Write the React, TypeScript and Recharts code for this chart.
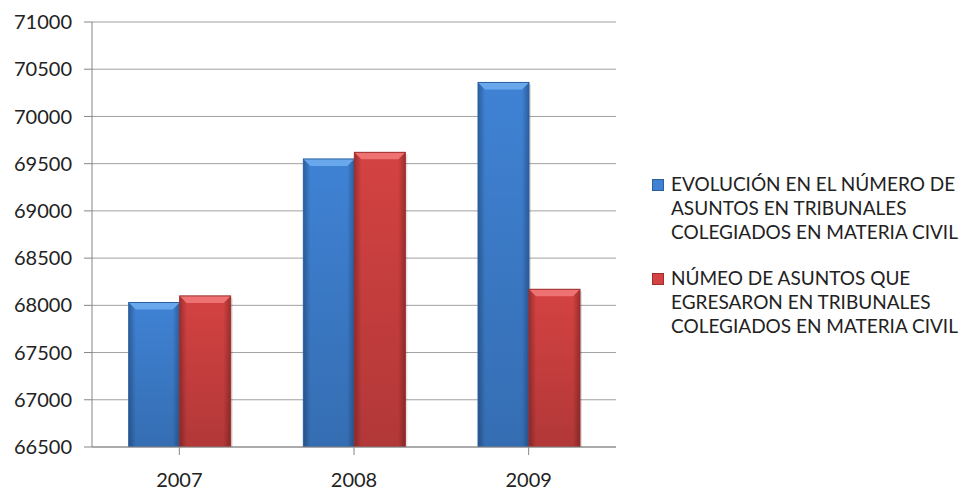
import React from "react";
import { BarChart, Bar, XAxis, YAxis, CartesianGrid } from "recharts";

const years = ["2007", "2008", "2009"];
const ingresados = [68030, 69550, 70360];
const egresados = [68100, 69620, 68170];
const yTicks = [66500, 67000, 67500, 68000, 68500, 69000, 69500, 70000, 70500, 71000];
const seriesNames = [
  "EVOLUCIÓN EN EL NÚMERO DE ASUNTOS EN TRIBUNALES COLEGIADOS EN MATERIA CIVIL",
  "NÚMEO DE ASUNTOS QUE EGRESARON EN TRIBUNALES COLEGIADOS EN MATERIA CIVIL",
];
const legendLines = [
  ["EVOLUCIÓN EN EL NÚMERO DE", "ASUNTOS EN TRIBUNALES", "COLEGIADOS EN MATERIA CIVIL"],
  ["NÚMEO DE ASUNTOS QUE", "EGRESARON EN TRIBUNALES", "COLEGIADOS EN MATERIA CIVIL"],
];

const data = years.map((y, i) => ({ year: y, a: ingresados[i], b: egresados[i] }));

const FONT = "Lato, 'Open Sans', sans-serif";

const palette = {
  a: { mid: "#3f82d4", edge: "#2c5f9e", top: "#6aa8ee" },
  b: { mid: "#d44242", edge: "#9e2e2e", top: "#ee7272" },
};

function BevelBar(props: any) {
  const { x, y, width, height, dataKey } = props;
  const c = palette[dataKey as "a" | "b"];
  const bev = 7;
  return (
    <g>
      <rect x={x + 2} y={y + 2} width={width} height={height} fill="rgba(0,0,0,0.12)" />
      <rect x={x} y={y} width={width} height={height} fill={`url(#grad-${dataKey})`} />
      <rect x={x} y={y} width={width} height={height} fill="url(#shade)" />
      <polygon
        points={`${x},${y} ${x + width},${y} ${x + width - bev},${y + bev} ${x + bev},${y + bev}`}
        fill={c.top}
      />
      <rect x={x} y={y} width={width} height={height} fill="none" stroke={c.edge} strokeWidth={1} />
    </g>
  );
}

function LegendBox() {
  return (
    <div
      style={{
        position: "absolute",
        left: 652,
        top: 172,
        fontFamily: FONT,
        fontSize: 19,
        color: "#222",
        lineHeight: "24px",
        whiteSpace: "nowrap",
      }}
    >
      {legendLines.map((lines, i) => (
        <div key={i} style={{ display: "flex", marginBottom: 22 }} title={seriesNames[i]}>
          <div
            style={{
              width: 10,
              height: 10,
              marginTop: 7,
              marginRight: 7,
              background: i === 0 ? palette.a.mid : palette.b.mid,
              border: `1px solid ${i === 0 ? palette.a.edge : palette.b.edge}`,
            }}
          />
          <div>
            {lines.map((l) => (
              <div key={l}>{l}</div>
            ))}
          </div>
        </div>
      ))}
    </div>
  );
}

export default function App() {
  return (
    <div style={{ position: "fixed", left: 0, top: 0, width: 963, height: 492, background: "#fff" }}>
      <BarChart
        width={963}
        height={492}
        data={data}
        margin={{ top: 22, right: 347, left: 0, bottom: 15 }}
        barCategoryGap="21%"
        barGap={0}
      >
        <defs>
          {(["a", "b"] as const).map((k) => (
            <linearGradient key={k} id={`grad-${k}`} x1="0" y1="0" x2="1" y2="0">
              <stop offset="0%" stopColor={palette[k].edge} />
              <stop offset="14%" stopColor={palette[k].mid} />
              <stop offset="86%" stopColor={palette[k].mid} />
              <stop offset="100%" stopColor={palette[k].edge} />
            </linearGradient>
          ))}
          <linearGradient id="shade" x1="0" y1="0" x2="0" y2="1">
            <stop offset="0%" stopColor="#000" stopOpacity={0} />
            <stop offset="100%" stopColor="#000" stopOpacity={0.16} />
          </linearGradient>
        </defs>
        <CartesianGrid vertical={false} stroke="#a0a0a0" />
        <XAxis
          dataKey="year"
          stroke="#868686"
          height={30}
          tickSize={8}
          tickMargin={18}
          tick={{ fill: "#222", fontSize: 20, fontFamily: FONT }}
          interval={0}
        />
        <YAxis
          width={92}
          domain={[66500, 71000]}
          ticks={yTicks}
          allowDataOverflow
          stroke="#868686"
          tickSize={8}
          tickMargin={12}
          tick={{ fill: "#222", fontSize: 20, fontFamily: FONT }}
        />
        <Bar dataKey="a" name={seriesNames[0]} fill={palette.a.mid} shape={BevelBar} isAnimationActive={false} />
        <Bar dataKey="b" name={seriesNames[1]} fill={palette.b.mid} shape={BevelBar} isAnimationActive={false} />
      </BarChart>
      <LegendBox />
    </div>
  );
}
